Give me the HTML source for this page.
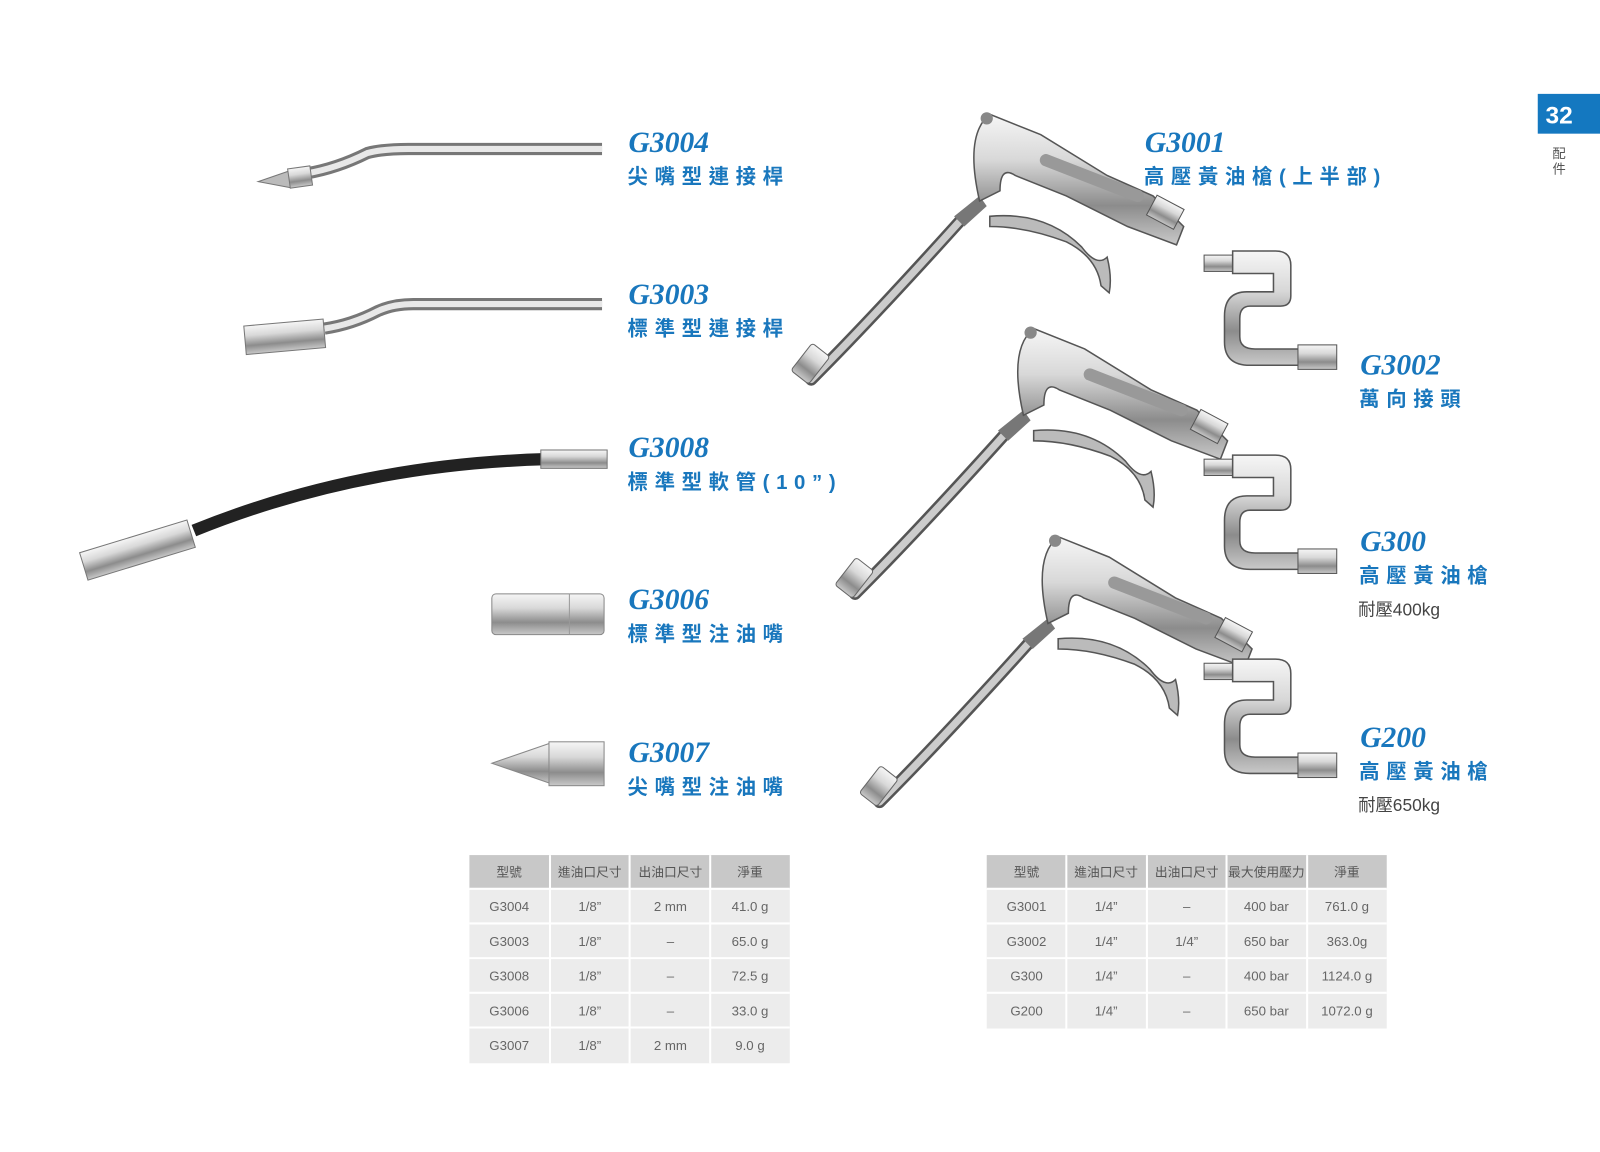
<!DOCTYPE html>
<html><head><meta charset="utf-8"><style>
html,body{margin:0;padding:0;background:#fff;}
svg{display:block;}
.code{font-family:"Liberation Serif",serif;font-weight:bold;font-style:italic;font-size:29px;fill:#1977bd;}
.cn{font-family:"Liberation Sans","Noto Sans CJK TC",sans-serif;font-weight:bold;font-size:20px;fill:#1977bd;letter-spacing:6.5px;}
.sub{font-family:"Liberation Sans","Noto Sans CJK TC",sans-serif;font-size:17px;fill:#444;}
.th{font-family:"Liberation Sans","Noto Sans CJK TC",sans-serif;font-size:12.5px;fill:#555;text-anchor:middle;}
.td{font-family:"Liberation Sans",sans-serif;font-size:13px;fill:#666;text-anchor:middle;}
</style></head><body>
<svg width="1600" height="1152" viewBox="0 0 1568 1129" preserveAspectRatio="none" xmlns="http://www.w3.org/2000/svg">
<defs>
<linearGradient id="m" x1="0" y1="0" x2="0" y2="1">
<stop offset="0" stop-color="#f6f6f6"/><stop offset="0.35" stop-color="#d8d8d8"/><stop offset="0.7" stop-color="#8c8c8c"/><stop offset="1" stop-color="#c9c9c9"/></linearGradient>
<g id="gun">
<path d="M0 0 Q60 -60 150 -160" stroke="#555" stroke-width="12" fill="none" stroke-linecap="round"/>
<path d="M0 0 Q60 -60 150 -160" stroke="#ccc" stroke-width="7" fill="none" stroke-linecap="round"/>
<rect x="-12" y="-32" width="22" height="34" rx="3" fill="url(#m)" stroke="#666" transform="rotate(38 0 -15)"/>
<path d="M140 -160 L165 -180 L172 -170 L150 -150Z" fill="#777"/>
<path d="M165 -175 Q150 -240 175 -260 L225 -240 L290 -200 L335 -180 L365 -150 L358 -132 L310 -150 L250 -180 L200 -200 Q185 -210 185 -185 Z" fill="url(#m)" stroke="#555" stroke-width="1.5"/>
<path d="M175 -160 Q230 -165 265 -130 Q280 -110 290 -120 Q295 -100 292 -85 L284 -92 Q280 -120 250 -135 Q210 -150 175 -150Z" fill="#bbb" stroke="#555" stroke-width="1.5"/>
<path d="M230 -215 L320 -180" stroke="#999" stroke-width="12" stroke-linecap="round"/>
<rect x="332" y="-175" width="30" height="22" fill="url(#m)" stroke="#555" transform="rotate(28 347 -164)"/>
<circle cx="172" cy="-256" r="6" fill="#888"/>
</g>
<g id="swivel">
<rect x="0" y="0" width="30" height="16" fill="url(#m)" stroke="#555"/>
<path d="M28 -4 L70 -4 Q85 -4 85 10 L85 40 Q85 50 75 50 L45 50 Q35 50 35 62 L35 80 Q35 92 50 92 L95 92 L95 108 L45 108 Q20 108 20 85 L20 60 Q20 36 42 36 L68 36 L68 18 L28 18Z" fill="url(#m)" stroke="#555" stroke-width="1.5"/>
<rect x="92" y="88" width="38" height="24" fill="url(#m)" stroke="#555"/>
</g>
</defs>

<rect x="1507" y="92" width="61" height="39" fill="#1478c0"/>
<text x="1528" y="121" font-family="Liberation Sans" font-weight="bold" font-size="24" fill="#fff" text-anchor="middle">32</text>
<text x="1528" y="155" font-family="Liberation Sans,Noto Sans CJK TC,sans-serif" font-size="13" fill="#555" text-anchor="middle">配</text>
<text x="1528" y="170" font-family="Liberation Sans,Noto Sans CJK TC,sans-serif" font-size="13" fill="#555" text-anchor="middle">件</text>

<path d="M300 170 Q330 165 360 150 Q375 146 400 146 L590 146" stroke="#777" stroke-width="12" fill="none"/>
<path d="M300 170 Q330 165 360 150 Q375 146 400 146 L590 146" stroke="#e8e8e8" stroke-width="6" fill="none"/>
<path d="M253 178 L285 167 L285 184Z" fill="#bbb" stroke="#777"/>
<rect x="283" y="164" width="22" height="19" fill="url(#m)" stroke="#777" transform="rotate(-8 294 173)"/>
<path d="M318 322 Q345 318 370 305 Q385 298 405 298 L590 298" stroke="#777" stroke-width="12" fill="none"/>
<path d="M318 322 Q345 318 370 305 Q385 298 405 298 L590 298" stroke="#e8e8e8" stroke-width="6" fill="none"/>
<rect x="240" y="316" width="78" height="28" fill="url(#m)" stroke="#777" transform="rotate(-5 280 330)"/>
<path d="M190 520 Q350 455 535 450" stroke="#222" stroke-width="12" fill="none"/>
<rect x="530" y="441" width="65" height="18" fill="url(#m)" stroke="#777"/>
<rect x="80" y="525" width="110" height="28" fill="url(#m)" stroke="#777" transform="rotate(-17 135 540)"/>
<rect x="482" y="582" width="110" height="40" rx="4" fill="url(#m)" stroke="#888"/>
<line x1="558" y1="582" x2="558" y2="622" stroke="#999"/>
<path d="M482 748 L540 728 L540 768Z" fill="url(#m)" stroke="#888"/>
<rect x="538" y="727" width="54" height="43" fill="url(#m)" stroke="#888"/>

<use href="#gun" x="795" y="372"/>
<use href="#gun" x="838" y="582"/>
<use href="#gun" x="862" y="786"/>
<use href="#swivel" x="1180" y="250"/>
<use href="#swivel" x="1180" y="450"/>
<use href="#swivel" x="1180" y="650"/>

<text class="code" x="616" y="149">G3004</text><text class="cn" x="615" y="180">尖嘴型連接桿</text>
<text class="code" x="616" y="298">G3003</text><text class="cn" x="615" y="329">標準型連接桿</text>
<text class="code" x="616" y="448">G3008</text><text class="cn" x="615" y="479">標準型軟管(10”)</text>
<text class="code" x="616" y="597">G3006</text><text class="cn" x="615" y="628">標準型注油嘴</text>
<text class="code" x="616" y="747">G3007</text><text class="cn" x="615" y="778">尖嘴型注油嘴</text>
<text class="code" x="1122" y="149">G3001</text><text class="cn" x="1121" y="180">高壓黃油槍(上半部)</text>
<text class="code" x="1333" y="367">G3002</text><text class="cn" x="1332" y="398">萬向接頭</text>
<text class="code" x="1333" y="540">G300</text><text class="cn" x="1332" y="571">高壓黃油槍</text><text class="sub" x="1331" y="603">耐壓400kg</text>
<text class="code" x="1333" y="732">G200</text><text class="cn" x="1332" y="763">高壓黃油槍</text><text class="sub" x="1331" y="795">耐壓650kg</text>

<g>
<rect x="460" y="838" width="314" height="33" fill="#c8c8c8"/>
<rect x="460" y="872" width="314" height="170" fill="#ececec"/>
<g stroke="#fff" stroke-width="2">
<line x1="539" y1="838" x2="539" y2="1042"/><line x1="617" y1="838" x2="617" y2="1042"/><line x1="696" y1="838" x2="696" y2="1042"/>
<line x1="460" y1="871" x2="774" y2="871"/><line x1="460" y1="905" x2="774" y2="905"/><line x1="460" y1="939" x2="774" y2="939"/><line x1="460" y1="973" x2="774" y2="973"/><line x1="460" y1="1007" x2="774" y2="1007"/>
</g>
<text class="th" x="499" y="859">型號</text><text class="th" x="578" y="859">進油口尺寸</text><text class="th" x="657" y="859">出油口尺寸</text><text class="th" x="735" y="859">淨重</text>
<text class="td" x="499" y="893">G3004</text><text class="td" x="578" y="893">1/8”</text><text class="td" x="657" y="893">2 mm</text><text class="td" x="735" y="893">41.0 g</text>
<text class="td" x="499" y="927">G3003</text><text class="td" x="578" y="927">1/8”</text><text class="td" x="657" y="927">–</text><text class="td" x="735" y="927">65.0 g</text>
<text class="td" x="499" y="961">G3008</text><text class="td" x="578" y="961">1/8”</text><text class="td" x="657" y="961">–</text><text class="td" x="735" y="961">72.5 g</text>
<text class="td" x="499" y="995">G3006</text><text class="td" x="578" y="995">1/8”</text><text class="td" x="657" y="995">–</text><text class="td" x="735" y="995">33.0 g</text>
<text class="td" x="499" y="1029">G3007</text><text class="td" x="578" y="1029">1/8”</text><text class="td" x="657" y="1029">2 mm</text><text class="td" x="735" y="1029">9.0 g</text>
</g>
<g>
<rect x="967" y="838" width="392" height="33" fill="#c8c8c8"/>
<rect x="967" y="872" width="392" height="136" fill="#ececec"/>
<g stroke="#fff" stroke-width="2">
<line x1="1045" y1="838" x2="1045" y2="1008"/><line x1="1124" y1="838" x2="1124" y2="1008"/><line x1="1202" y1="838" x2="1202" y2="1008"/><line x1="1281" y1="838" x2="1281" y2="1008"/>
<line x1="967" y1="871" x2="1359" y2="871"/><line x1="967" y1="905" x2="1359" y2="905"/><line x1="967" y1="939" x2="1359" y2="939"/><line x1="967" y1="973" x2="1359" y2="973"/>
</g>
<text class="th" x="1006" y="859">型號</text><text class="th" x="1084" y="859">進油口尺寸</text><text class="th" x="1163" y="859">出油口尺寸</text><text class="th" x="1241" y="859">最大使用壓力</text><text class="th" x="1320" y="859">淨重</text>
<text class="td" x="1006" y="893">G3001</text><text class="td" x="1084" y="893">1/4”</text><text class="td" x="1163" y="893">–</text><text class="td" x="1241" y="893">400 bar</text><text class="td" x="1320" y="893">761.0 g</text>
<text class="td" x="1006" y="927">G3002</text><text class="td" x="1084" y="927">1/4”</text><text class="td" x="1163" y="927">1/4”</text><text class="td" x="1241" y="927">650 bar</text><text class="td" x="1320" y="927">363.0g</text>
<text class="td" x="1006" y="961">G300</text><text class="td" x="1084" y="961">1/4”</text><text class="td" x="1163" y="961">–</text><text class="td" x="1241" y="961">400 bar</text><text class="td" x="1320" y="961">1124.0 g</text>
<text class="td" x="1006" y="995">G200</text><text class="td" x="1084" y="995">1/4”</text><text class="td" x="1163" y="995">–</text><text class="td" x="1241" y="995">650 bar</text><text class="td" x="1320" y="995">1072.0 g</text>
</g>
</svg>
</body></html>
